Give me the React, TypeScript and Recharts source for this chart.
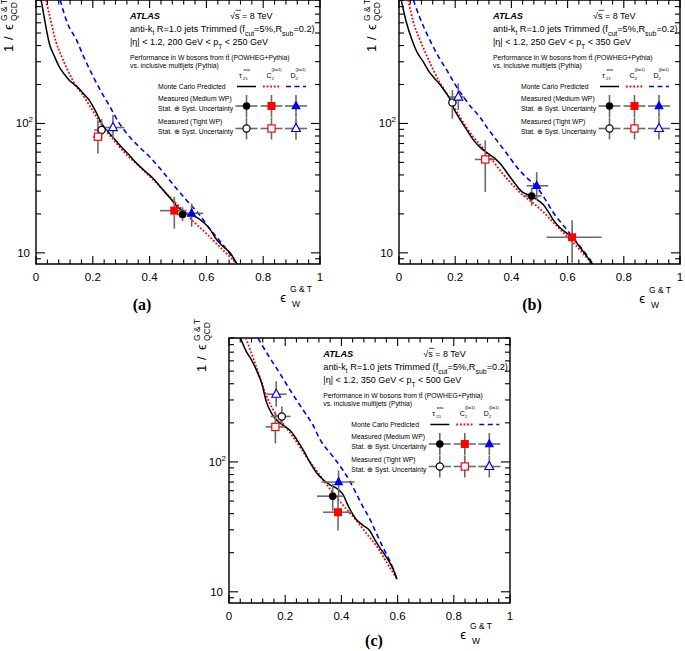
import React from 'react';
import { ComposedChart, Line, Scatter, XAxis, YAxis, ErrorBar, ReferenceArea } from 'recharts';

type XY = [number, number];
// x, y, xLow, xHigh, yLow, yHigh
type Meas = [number, number, number, number, number, number];

// ---------- axes ----------
const xTickValues = [0, 0.04, 0.08, 0.12, 0.16, 0.2, 0.24, 0.28, 0.32, 0.36, 0.4, 0.44, 0.48, 0.52, 0.56, 0.6, 0.64, 0.68, 0.72, 0.76, 0.8, 0.84, 0.88, 0.92, 0.96, 1];
const xMajorValues = [0, 0.2, 0.4, 0.6, 0.8, 1];
const xMajorLabels = ['0', '0.2', '0.4', '0.6', '0.8', '1'];
const yTickValues = [9, 10, 20, 30, 40, 50, 60, 70, 80, 90, 100, 200, 300, 400, 500, 600, 700, 800, 900];
const yDomain: [number, number] = [8.2, 900];
const xDomain: [number, number] = [0, 1];

// ---------- panel (a): 200 < pT < 250 GeV ----------
const aTau: XY[] = [[0.018, 900], [0.03, 640], [0.047, 415], [0.065, 330], [0.082, 274], [0.1, 240], [0.117, 216], [0.135, 200], [0.147, 190], [0.165, 172], [0.188, 151], [0.21, 124], [0.231, 100], [0.25, 88], [0.272, 78], [0.3, 66], [0.331, 56], [0.355, 49], [0.38, 43.5], [0.413, 37.5], [0.44, 32], [0.472, 26.5], [0.5, 22.5], [0.519, 20.8], [0.54, 19.8], [0.566, 18.8], [0.59, 17.2], [0.613, 15.2], [0.63, 13.2], [0.648, 11.8], [0.665, 10.9], [0.683, 10.0], [0.7, 8.8], [0.712, 7.9]];
const aC2: XY[] = [[0.035, 900], [0.05, 650], [0.07, 430], [0.09, 330], [0.106, 274], [0.125, 225], [0.141, 195], [0.16, 172], [0.176, 152], [0.2, 125], [0.223, 104], [0.25, 86], [0.284, 70], [0.32, 57], [0.36, 47.5], [0.4, 39], [0.425, 34.5], [0.46, 28.5], [0.507, 22.5], [0.554, 17.5], [0.59, 14.8], [0.624, 12.5], [0.66, 10.4], [0.69, 9.0], [0.712, 7.9]];
const aD2: XY[] = [[0.085, 900], [0.11, 600], [0.143, 440], [0.17, 320], [0.202, 229], [0.23, 175], [0.261, 134], [0.29, 103], [0.319, 84], [0.36, 67], [0.401, 55], [0.44, 44], [0.484, 33.5], [0.53, 25.5], [0.577, 19.5], [0.61, 15.5], [0.648, 12.3], [0.68, 10], [0.712, 7.9]];
const aTauMedium: Meas = [0.516, 19.8, 0.495, 0.54, 17.6, 22.5];
const aC2Medium: Meas = [0.487, 21.2, 0.437, 0.53, 15.4, 27.1];
const aD2Medium: Meas = [0.548, 20.2, 0.507, 0.589, 15.9, 24.1];
const aTauTight: Meas = [0.231, 89, 0.205, 0.252, 76, 108];
const aC2Tight: Meas = [0.218, 79, 0.2, 0.232, 58.7, 106];
const aD2Tight: Meas = [0.271, 93, 0.229, 0.311, 76, 116];

// ---------- panel (b): 250 < pT < 350 GeV ----------
const bTau: XY[] = [[0.008, 900], [0.025, 620], [0.045, 450], [0.063, 360], [0.086, 300], [0.105, 255], [0.125, 225], [0.146, 200], [0.165, 175], [0.181, 155], [0.195, 130], [0.21, 114], [0.24, 90], [0.264, 75], [0.29, 65], [0.315, 59], [0.34, 54], [0.36, 49], [0.383, 42], [0.41, 35], [0.435, 30], [0.46, 28], [0.478, 26.8], [0.5, 25], [0.514, 23.5], [0.53, 21], [0.549, 18], [0.575, 15.5], [0.6, 14], [0.625, 12.5], [0.645, 11], [0.665, 9.6], [0.68, 8.7], [0.693, 8.0]];
const bC2: XY[] = [[0.033, 900], [0.05, 620], [0.075, 440], [0.1, 330], [0.122, 260], [0.146, 205], [0.17, 170], [0.195, 135], [0.217, 112], [0.24, 93], [0.264, 79], [0.295, 66], [0.324, 55], [0.365, 42], [0.407, 33], [0.44, 28], [0.478, 24.2], [0.515, 20.5], [0.549, 17.2], [0.585, 14.3], [0.62, 12], [0.655, 9.9], [0.693, 8.0]];
const bD2: XY[] = [[0.051, 900], [0.075, 650], [0.11, 440], [0.14, 330], [0.17, 258], [0.2, 200], [0.229, 161], [0.258, 133], [0.288, 112], [0.318, 90], [0.348, 74], [0.385, 58], [0.419, 46], [0.455, 38], [0.49, 32.3], [0.52, 26], [0.549, 20.5], [0.578, 17], [0.608, 14.1], [0.632, 12.1], [0.656, 10.4], [0.675, 9.2], [0.693, 8.0]];
const bTauMedium: Meas = [0.472, 27.5, 0.442, 0.507, 23.1, 31.9];
const bC2Medium: Meas = [0.616, 13.2, 0.525, 0.721, 8.4, 17.9];
const bD2Medium: Meas = [0.49, 33, 0.454, 0.531, 25.6, 42];
const bTauTight: Meas = [0.19, 145, 0.175, 0.205, 109, 181];
const bC2Tight: Meas = [0.307, 52.7, 0.27, 0.342, 29.6, 74];
const bD2Tight: Meas = [0.211, 160, 0.18, 0.234, 127, 204];

// ---------- panel (c): 350 < pT < 500 GeV ----------
const cTau: XY[] = [[0.04, 910], [0.06, 720], [0.082, 600], [0.097, 513], [0.117, 400], [0.133, 290], [0.15, 240], [0.169, 211], [0.19, 193], [0.216, 176], [0.24, 150], [0.263, 125], [0.285, 102], [0.311, 83], [0.335, 73], [0.358, 67], [0.39, 61], [0.406, 56], [0.42, 48], [0.436, 41], [0.453, 36], [0.477, 32.5], [0.501, 29.5], [0.52, 25], [0.536, 22], [0.56, 18.5], [0.584, 15], [0.598, 12.5]];
const cC2: XY[] = [[0.06, 900], [0.085, 640], [0.109, 455], [0.127, 350], [0.145, 283], [0.168, 230], [0.192, 198], [0.22, 165], [0.252, 131], [0.28, 106], [0.311, 86], [0.345, 68], [0.382, 53.6], [0.415, 44], [0.453, 35.4], [0.49, 28], [0.525, 22.5], [0.56, 17], [0.598, 12.5]];
const cD2: XY[] = [[0.103, 900], [0.14, 660], [0.18, 484], [0.22, 350], [0.263, 252], [0.3, 190], [0.323, 150], [0.37, 110], [0.406, 86], [0.43, 71], [0.453, 57], [0.477, 45], [0.501, 36.5], [0.525, 28], [0.548, 22], [0.572, 17.3], [0.598, 12.5]];
const cTauMedium: Meas = [0.369, 54.5, 0.313, 0.408, 42, 68];
const cC2Medium: Meas = [0.388, 41, 0.335, 0.436, 29.6, 53.6];
const cD2Medium: Meas = [0.39, 70, 0.329, 0.447, 53.6, 86];
const cTauTight: Meas = [0.188, 224, 0.148, 0.219, 193, 267];
const cC2Tight: Meas = [0.165, 186, 0.13, 0.2, 139, 244];
const cD2Tight: Meas = [0.168, 332, 0.134, 0.205, 267, 417];

// ---------- texts ----------
const ptLow = ['200', '250', '350'];
const ptHigh = ['250', '350', '500'];
const panelLabels = ['(a)', '(b)', '(c)'];

const SANS = '"Liberation Sans", Arial, Helvetica, sans-serif';
const SERIF = '"Liberation Serif", "Times New Roman", serif';
const BLACK = '#000000';
const RED = '#ff0000';
const BLUE = '#0000ff';
const ERR = '#6a6a6a';

const toLine = (d: XY[]) => d.map(([x, y]) => ({ x, y }));
const toPoint = (m: Meas) => {
  const [x, y, xLo, xHi, yLo, yHi] = m;
  return [{ x, y, ex: [x - xLo, xHi - x], ey: [y - yLo, yHi - y] }];
};

type Kind = 'circle' | 'square' | 'triangle';

function Marker({ cx, cy, kind, color, open }: { cx: number; cy: number; kind: Kind; color: string; open: boolean }) {
  const fill = open ? '#ffffff' : color;
  const sw = open ? 1.2 : 0;
  if (kind === 'circle') return <circle cx={cx} cy={cy} r={3.6} fill={fill} stroke={color} strokeWidth={open ? 1.2 : 0.5} />;
  if (kind === 'square') {
    const h = open ? 3.6 : 4;
    return <rect x={cx - h} y={cy - h} width={2 * h} height={2 * h} fill={fill} stroke={color} strokeWidth={sw} />;
  }
  const p = open ? `${cx},${cy - 5} ${cx + 4.4},${cy + 3} ${cx - 4.4},${cy + 3}` : `${cx},${cy - 5.5} ${cx + 4.8},${cy + 3.3} ${cx - 4.8},${cy + 3.3}`;
  return <polygon points={p} fill={fill} stroke={color} strokeWidth={sw} />;
}

const shapeOf = (kind: Kind, color: string, open: boolean) => (props: any) => {
  const { cx, cy } = props;
  if (cx == null || cy == null) return <g />;
  return <Marker cx={cx} cy={cy} kind={kind} color={color} open={open} />;
};

type Geo = { left: number; top: number; w: number; h: number };

function Panel({ geo, tau, c2, d2, meas }: { geo: Geo; tau: XY[]; c2: XY[]; d2: XY[]; meas: Meas[] }) {
  const ML = 45, MT = 12, MR = 10, MB = 30;
  const W = ML + geo.w + MR;
  const H = MT + geo.h + MB;
  const pl = ML, pr = ML + geo.w, pt = MT, pb = MT + geo.h;

  const xTick = (p: any) => {
    const v = p.payload.value as number;
    const x = p.x as number;
    const mi = xMajorValues.findIndex((m) => Math.abs(m - v) < 1e-6);
    const len = mi >= 0 ? 8 : 4.5;
    return (
      <g>
        <line x1={x} x2={x} y1={pb} y2={pb - len} stroke="#000" strokeWidth={1.1} />
        <line x1={x} x2={x} y1={pt} y2={pt + len} stroke="#000" strokeWidth={1.1} />
        {mi >= 0 && (
          <text x={x} y={pb + 17} textAnchor="middle" fontSize={11.5} fontFamily={SANS} fill="#000">{xMajorLabels[mi]}</text>
        )}
      </g>
    );
  };
  const yTick = (p: any) => {
    const v = p.payload.value as number;
    const y = p.y as number;
    const major = v === 10 || v === 100;
    const len = major ? 9 : 5;
    return (
      <g>
        <line x1={pl} x2={pl + len} y1={y} y2={y} stroke="#000" strokeWidth={1.1} />
        <line x1={pr} x2={pr - len} y1={y} y2={y} stroke="#000" strokeWidth={1.1} />
        {v === 10 && (
          <text x={pl - 6} y={y + 4} textAnchor="end" fontSize={11.5} fontFamily={SANS} fill="#000">10</text>
        )}
        {v === 100 && (
          <text x={pl - 3} y={y + 4} textAnchor="end" fontSize={11.5} fontFamily={SANS} fill="#000">10<tspan dy={-5} fontSize={8}>2</tspan></text>
        )}
      </g>
    );
  };

  const kinds: Kind[] = ['circle', 'square', 'triangle'];
  const colors = [BLACK, RED, BLUE];

  return (
    <div style={{ position: 'absolute', left: geo.left - ML, top: geo.top - MT, width: W, height: H }}>
      <ComposedChart width={W} height={H} margin={{ top: MT, right: MR, bottom: 0, left: 0 }}>
        <XAxis type="number" dataKey="x" domain={xDomain} allowDataOverflow ticks={xTickValues} interval={0} tick={xTick} tickLine={false} axisLine={false} height={MB} />
        <YAxis type="number" dataKey="y" scale="log" domain={yDomain} allowDataOverflow ticks={yTickValues} interval={0} tick={yTick} tickLine={false} axisLine={false} width={ML} />
        <ReferenceArea x1={0} x2={1} y1={yDomain[0]} y2={yDomain[1]} fill="none" fillOpacity={0} stroke="#000" strokeWidth={1.4} ifOverflow="visible" />
        <Line data={toLine(d2)} dataKey="y" type="monotone" stroke={BLUE} strokeWidth={1.6} strokeDasharray="5 3.5" dot={false} isAnimationActive={false} />
        <Line data={toLine(c2)} dataKey="y" type="monotone" stroke={RED} strokeWidth={1.8} strokeDasharray="1.8 1.8" dot={false} isAnimationActive={false} />
        <Line data={toLine(tau)} dataKey="y" type="monotone" stroke={BLACK} strokeWidth={1.5} dot={false} isAnimationActive={false} />
        {meas.map((m, i) => (
          <Scatter key={i} data={toPoint(m)} dataKey="y" isAnimationActive={false} shape={shapeOf(kinds[i % 3], colors[i % 3], i >= 3)}>
            <ErrorBar dataKey="ex" direction="x" width={0} stroke={ERR} strokeWidth={1.6} />
            <ErrorBar dataKey="ey" direction="y" width={0} stroke={ERR} strokeWidth={1.6} />
          </Scatter>
        ))}
      </ComposedChart>
    </div>
  );
}

function LegendBlock({ ox, oy, idx }: { ox: number; oy: number; idx: number }) {
  const cols = [ox + 210.5, ox + 235.5, ox + 260];
  const kinds: Kind[] = ['circle', 'square', 'triangle'];
  const colors = [BLACK, RED, BLUE];
  const cross = (cx: number, cy: number, key: string) => (
    <g key={key}>
      <line x1={cx - 11} x2={cx + 11} y1={cy} y2={cy} stroke={ERR} strokeWidth={1.6} />
      <line x1={cx} x2={cx} y1={cy - 11} y2={cy + 11} stroke={ERR} strokeWidth={1.6} />
    </g>
  );
  return (
    <g fontFamily={SANS} fill="#000">
      <text x={ox + 94} y={oy + 18.5} fontSize={9.2} fontWeight="bold" fontStyle="italic">ATLAS</text>
      <text x={ox + 194} y={oy + 18.5} fontSize={9}>√s = 8 TeV</text>
      <line x1={ox + 199.5} x2={ox + 205} y1={oy + 10.3} y2={oy + 10.3} stroke="#000" strokeWidth={0.7} />
      <text x={ox + 94} y={oy + 31.5} fontSize={9.2}>
        anti-k<tspan fontSize={6.5} dy={3}>t</tspan><tspan dy={-3}> R=1.0 jets Trimmed (f</tspan><tspan fontSize={7} dy={4}>cut</tspan><tspan dy={-4}>=5%,R</tspan><tspan fontSize={7} dy={4}>sub</tspan><tspan dy={-4}>=0.2)</tspan>
      </text>
      <text x={ox + 94} y={oy + 45} fontSize={9}>
        |η| &lt; 1.2, {ptLow[idx]} GeV &lt; p<tspan fontSize={6.5} dy={4}>T</tspan><tspan dy={-4}> &lt; {ptHigh[idx]} GeV</tspan>
      </text>
      <text x={ox + 94} y={oy + 59.5} fontSize={6.8}>Performance in W bosons from tt̄ (POWHEG+Pythia)</text>
      <text x={ox + 94} y={oy + 67.5} fontSize={6.8}>vs. inclusive multijets (Pythia)</text>

      <text x={ox + 203} y={oy + 77.5} fontSize={7}>τ</text>
      <text x={ox + 207.5} y={oy + 71} fontSize={4.3}>wta</text>
      <text x={ox + 207} y={oy + 80} fontSize={4.3}>21</text>
      <text x={ox + 230.5} y={oy + 77.5} fontSize={7}>C</text>
      <text x={ox + 235.5} y={oy + 71} fontSize={4.3}>(β=1)</text>
      <text x={ox + 235.5} y={oy + 80} fontSize={4.3}>2</text>
      <text x={ox + 254.5} y={oy + 77.5} fontSize={7}>D</text>
      <text x={ox + 259.5} y={oy + 71} fontSize={4.3}>(β=1)</text>
      <text x={ox + 259.5} y={oy + 80} fontSize={4.3}>2</text>

      <text x={ox + 122} y={oy + 88.5} fontSize={6.8}>Monte Carlo Predicted</text>
      <line x1={ox + 201} x2={ox + 220} y1={oy + 86.5} y2={oy + 86.5} stroke={BLACK} strokeWidth={1.5} />
      <line x1={ox + 227} x2={ox + 245} y1={oy + 86.5} y2={oy + 86.5} stroke={RED} strokeWidth={1.8} strokeDasharray="1.8 1.8" />
      <line x1={ox + 250} x2={ox + 270} y1={oy + 86.5} y2={oy + 86.5} stroke={BLUE} strokeWidth={1.6} strokeDasharray="5 3.5" />

      <text x={ox + 122} y={oy + 101} fontSize={6.8}>Measured (Medium WP)</text>
      <text x={ox + 122} y={oy + 111} fontSize={6.8}>Stat. ⊕ Syst. Uncertainty</text>
      <text x={ox + 122} y={oy + 124} fontSize={6.8}>Measured (Tight WP)</text>
      <text x={ox + 122} y={oy + 133.5} fontSize={6.8}>Stat. ⊕ Syst. Uncertainty</text>
      {cols.map((cx, i) => (
        <g key={'m' + i}>
          {cross(cx, oy + 106, 'cm' + i)}
          <Marker cx={cx} cy={oy + 106} kind={kinds[i]} color={colors[i]} open={false} />
          {cross(cx, oy + 128.5, 'ct' + i)}
          <Marker cx={cx} cy={oy + 128.5} kind={kinds[i]} color={colors[i]} open={true} />
        </g>
      ))}
    </g>
  );
}

function YTitle({ plotLeft, bottomY }: { plotLeft: number; bottomY: number }) {
  // rotated: local x goes up on the screen, local y goes right
  return (
    <g transform={`translate(${plotLeft - 23.5}, ${bottomY}) rotate(-90)`} fontFamily={SANS} fill="#000">
      <text x={0} y={0} fontSize={13}>1</text>
      <text x={12} y={0} fontSize={13}>/</text>
      <text x={22} y={0} fontSize={13}>ϵ</text>
      <text x={31} y={-6} fontSize={8.5}>G &amp; T</text>
      <text x={31} y={4} fontSize={8.5}>QCD</text>
    </g>
  );
}

function XTitle({ x, y }: { x: number; y: number }) {
  return (
    <g fontFamily={SANS} fill="#000">
      <text x={x} y={y + 4.5} fontSize={13} textAnchor="middle">ϵ</text>
      <text x={x + 7} y={y - 5} fontSize={8.5}>G &amp; T</text>
      <text x={x + 9} y={y + 9.5} fontSize={8.5}>W</text>
    </g>
  );
}

const geoA: Geo = { left: 36, top: 0, w: 284, h: 264 };
const geoB: Geo = { left: 399, top: 0, w: 281, h: 264 };
const geoC: Geo = { left: 229.3, top: 338, w: 281, h: 265 };

export default function App() {
  return (
    <div style={{ position: 'absolute', left: 0, top: 0, width: 685, height: 651, background: '#fff', overflow: 'hidden' }}>
      <Panel geo={geoA} tau={aTau} c2={aC2} d2={aD2} meas={[aTauMedium, aC2Medium, aD2Medium, aTauTight, aC2Tight, aD2Tight]} />
      <Panel geo={geoB} tau={bTau} c2={bC2} d2={bD2} meas={[bTauMedium, bC2Medium, bD2Medium, bTauTight, bC2Tight, bD2Tight]} />
      <Panel geo={geoC} tau={cTau} c2={cC2} d2={cD2} meas={[cTauMedium, cC2Medium, cD2Medium, cTauTight, cC2Tight, cD2Tight]} />
      <svg width={685} height={651} style={{ position: 'absolute', left: 0, top: 0, pointerEvents: 'none' }}>
        <LegendBlock ox={geoA.left} oy={geoA.top} idx={0} />
        <LegendBlock ox={geoB.left} oy={geoB.top} idx={1} />
        <LegendBlock ox={geoC.left} oy={geoC.top} idx={2} />
        <YTitle plotLeft={geoA.left} bottomY={52} />
        <YTitle plotLeft={geoB.left} bottomY={52} />
        <YTitle plotLeft={geoC.left} bottomY={372} />
        <XTitle x={283} y={297} />
        <XTitle x={642} y={298} />
        <XTitle x={463} y={634} />
        <text x={142} y={310} textAnchor="middle" fontSize={16} fontWeight="bold" fontFamily={SERIF}>{panelLabels[0]}</text>
        <text x={532} y={310} textAnchor="middle" fontSize={16} fontWeight="bold" fontFamily={SERIF}>{panelLabels[1]}</text>
        <text x={374} y={646} textAnchor="middle" fontSize={16} fontWeight="bold" fontFamily={SERIF}>{panelLabels[2]}</text>
      </svg>
    </div>
  );
}
